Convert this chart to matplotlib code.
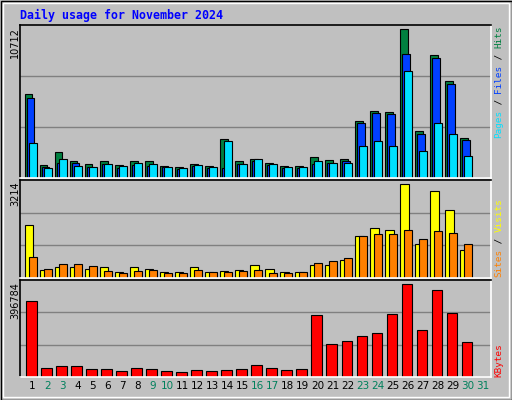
import matplotlib
matplotlib.use("Agg")
import matplotlib.pyplot as plt
from matplotlib.patches import Rectangle
import numpy as np

days = [str(d) for d in range(1, 32)]
weekend = [2, 3, 9, 10, 16, 17, 23, 24, 30, 31]
hits = [6060, 970, 1840, 1260, 1040, 1190, 970, 1190, 1260, 900, 820, 1040, 900, 2790, 1190,
        1400, 1110, 900, 900, 1480, 1330, 1400, 4090, 4820, 4750, 10712, 3370, 8890, 7000, 2860, 0]
files = [5770, 820, 1110, 1110, 820, 1040, 750, 970, 900, 820, 680, 900, 750, 750, 1040,
         1190, 970, 750, 750, 1040, 1110, 1260, 3950, 4680, 4600, 8960, 3150, 8680, 6790, 2710, 0]
pages = [2500, 750, 1400, 900, 820, 1040, 900, 1110, 1040, 820, 750, 970, 820, 2640, 1040,
         1400, 1040, 820, 820, 1260, 1110, 1110, 2280, 2640, 2280, 7730, 1910, 3950, 3150, 1550, 0]
visits = [1820, 290, 360, 360, 325, 360, 220, 360, 325, 220, 220, 360, 220, 255, 290,
          430, 325, 220, 220, 460, 460, 600, 1440, 1720, 1650, 3214, 1160, 2970, 2340, 950, 0]
sites = [710, 325, 465, 465, 395, 255, 185, 255, 290, 185, 185, 290, 220, 220, 255,
         290, 185, 185, 220, 500, 570, 675, 1440, 1510, 1510, 1650, 1335, 1615, 1545, 1160, 0]
kbytes = [323000, 40500, 44900, 44900, 36200, 36200, 27500, 40500, 36200, 27500, 23200, 31900,
          27500, 31900, 36200, 49200, 40500, 31900, 36200, 266400, 140400, 153500, 175200, 188200,
          270800, 396784, 201300, 370700, 275100, 149100, 0]

W, H = 512, 400
fig = plt.figure(figsize=(W/100, H/100), dpi=100)
fig.patch.set_facecolor("#C0C0C0")
fig.add_artist(Rectangle((0.5/W, 0.5/H), 1-1/W, 1-1/H, transform=fig.transFigure,
                         fill=False, edgecolor="#000000", lw=1))
fig.add_artist(Rectangle((3/W, 3/H), 1-6/W, 1-6/H, transform=fig.transFigure,
                         fill=False, edgecolor="#FFFFFF", lw=1))

def ax_px(x0, y0, x1, y1):
    a = fig.add_axes([x0/W, 1-y1/H, (x1-x0)/W, (y1-y0)/H])
    a.set_facecolor("#C0C0C0")
    for s in ["top", "left"]:
        a.spines[s].set_color("#000000")
    for s in ["bottom", "right"]:
        a.spines[s].set_color("#FFFFFF")
    for s in a.spines.values():
        s.set_linewidth(1.2)
    a.set_xticks([]); a.set_yticks([])
    a.set_xlim(-0.33, 31.05)
    return a

x = np.arange(31)
ek = dict(edgecolor="black", linewidth=0.8, align="edge")

a1 = ax_px(20, 25, 491, 178)
ym = 10712 * 1.029
a1.set_ylim(0, ym)
for f in (1/3, 2/3):
    a1.axhline(ym*f, color="#808080", lw=1, zorder=0)
a1.bar(x, hits, 0.5, color="#008040", **ek)
a1.bar(x+0.13, files, 0.5, color="#0040FF", **ek)
a1.bar(x+0.27, pages, 0.5, color="#00E0FF", **ek)

a2 = ax_px(20, 180, 491, 278)
ym = 3214 * 1.045
a2.set_ylim(0, ym)
for f in (1/3, 2/3):
    a2.axhline(ym*f, color="#808080", lw=1, zorder=0)
a2.bar(x, visits, 0.56, color="#FFFF00", **ek)
a2.bar(x+0.27, sites, 0.5, color="#FF8000", **ek)

a3 = ax_px(20, 280, 491, 377)
ym = 396784 * 1.045
a3.set_ylim(0, ym)
for f in (1/3, 2/3):
    a3.axhline(ym*f, color="#808080", lw=1, zorder=0)
a3.bar(x+0.09, kbytes, 0.69, color="#FF0000", **ek)

for i, d in enumerate(days):
    col = "#00805C" if int(d) in weekend else "#000000"
    a3.text(i+0.5, -0.09, d, transform=a3.get_xaxis_transform(), ha="center", va="center",
            fontsize=7.5, color=col, family="DejaVu Sans")

fig.text(20/W, 1-15/H, "Daily usage for November 2024", color="#0000FF", fontsize=8.4,
         fontweight="bold", family="DejaVu Sans Mono", va="center", ha="left")

for lab, ytop in [("10712", 27), ("3214", 181), ("396784", 282)]:
    fig.text(15/W, 1-ytop/H, lab, rotation=90, fontsize=7, ha="center", va="top",
             family="DejaVu Sans")

cw = 5.6
def right_label(pieces, ybot):
    off = 0
    for txt, col in pieces:
        fig.text(499/W, 1-(ybot-off*cw)/H, txt, rotation=90, color=col, fontsize=6.7,
                 family="DejaVu Sans Mono", ha="center", va="bottom")
        off += len(txt)

right_label([("Pages", "#00E0FF"), (" / ", "#000000"), ("Files", "#0040FF"),
             (" / ", "#000000"), ("Hits", "#008040")], 138)
right_label([("Sites", "#FF8000"), (" / ", "#000000"), ("Visits", "#FFFF00")], 277)
right_label([("KBytes", "#FF0000")], 377)

fig.savefig("out.png", dpi=100, facecolor=fig.get_facecolor())
